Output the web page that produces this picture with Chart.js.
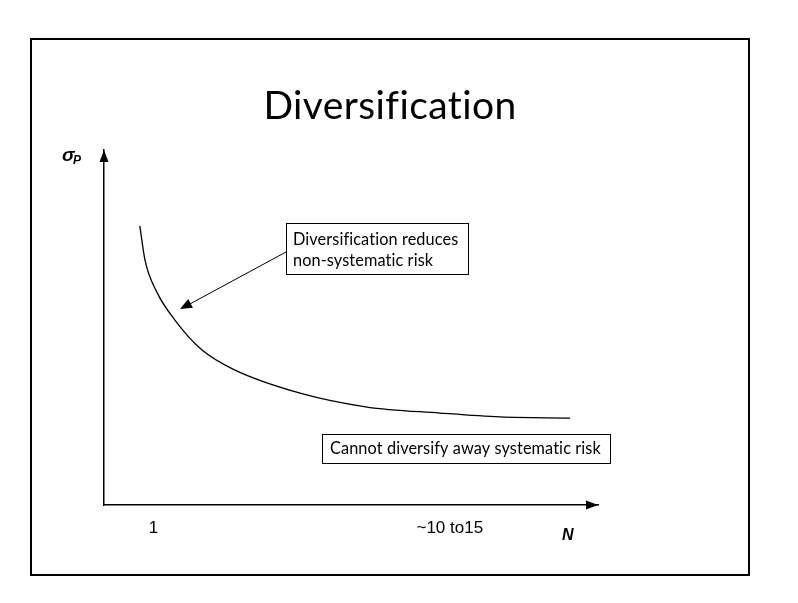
<!DOCTYPE html>
<html>
<head>
<meta charset="utf-8">
<script src="https://cdn.jsdelivr.net/npm/chart.js@4.4.1/dist/chart.umd.min.js"></script>
<style>
  html, body { margin: 0; padding: 0; background: #fff; }
  #wrap { width: 798px; height: 603px; }
</style>
</head>
<body>
<div id="wrap"><canvas id="diversification"></canvas></div>
<script>
// number of stocks in the portfolio (N) and portfolio risk (sigma P)
const stocksN = [0.45, 0.66, 1.13, 1.87, 2.96, 4.24, 6.94, 9.65, 12.60, 15.03, 17.87];
const sigmaP = [78.6, 69.0, 60.1, 52.1, 43.7, 38.2, 31.5, 27.6, 25.9, 24.8, 24.5];
const tickValues = [1, 13];
const tickLabels = ['1', '~10 to15'];

const points = stocksN.map((n, i) => ({ x: n, y: sigmaP[i] }));

const sansFont = "'Lato', 'Liberation Sans', sans-serif";
const arialFont = "'Liberation Sans', Arial, sans-serif";

// frame, title, axis arrows, axis names and the two notes
const slideDecor = {
  id: 'slideDecor',
  beforeDraw(chart) {
    const ctx = chart.ctx;
    ctx.save();
    ctx.fillStyle = '#fff';
    ctx.fillRect(0, 0, chart.width, chart.height);
    ctx.restore();
  },
  afterDraw(chart) {
    const ctx = chart.ctx;
    const area = chart.chartArea;
    ctx.save();

    // slide frame
    ctx.strokeStyle = '#000';
    ctx.lineWidth = 2;
    ctx.strokeRect(31, 39, 718, 536);

    // title (small letter spacing keeps "fi" from turning into a ligature)
    ctx.fillStyle = '#000';
    ctx.letterSpacing = '0.4px';
    ctx.font = '39px ' + sansFont;
    ctx.textAlign = 'center';
    ctx.textBaseline = 'alphabetic';
    ctx.fillText('Diversification', 390, 119);

    // arrow heads on the axes
    ctx.beginPath();
    ctx.moveTo(area.right, area.bottom);
    ctx.lineTo(area.right - 12, area.bottom - 4.5);
    ctx.lineTo(area.right - 12, area.bottom + 4.5);
    ctx.closePath();
    ctx.fill();
    ctx.beginPath();
    ctx.moveTo(area.left, area.top);
    ctx.lineTo(area.left - 4.5, area.top + 12);
    ctx.lineTo(area.left + 4.5, area.top + 12);
    ctx.closePath();
    ctx.fill();

    // axis names
    ctx.letterSpacing = '0px';
    ctx.textAlign = 'left';
    ctx.font = 'italic bold 19px ' + arialFont;
    ctx.fillText('\u03c3', 62, 161);
    ctx.font = 'italic bold 12px ' + arialFont;
    ctx.fillText('P', 73, 164);
    ctx.font = 'italic bold 16px ' + arialFont;
    ctx.fillText('N', 562, 540);

    // note 1 with pointer to the curve
    ctx.lineWidth = 1;
    ctx.strokeRect(286.5, 223.5, 182, 51);
    ctx.letterSpacing = '0.1px';
    ctx.font = '16.3px ' + sansFont;
    ctx.fillText('Diversification reduces', 293, 245);
    ctx.fillText('non-systematic risk', 293, 266);

    ctx.beginPath();
    ctx.moveTo(286, 252);
    ctx.lineTo(188, 305);
    ctx.stroke();
    const ang = Math.atan2(309 - 252, 180 - 286);
    ctx.beginPath();
    ctx.moveTo(180, 309);
    ctx.lineTo(180 - 12 * Math.cos(ang) + 5 * Math.sin(ang), 309 - 12 * Math.sin(ang) - 5 * Math.cos(ang));
    ctx.lineTo(180 - 12 * Math.cos(ang) - 5 * Math.sin(ang), 309 - 12 * Math.sin(ang) + 5 * Math.cos(ang));
    ctx.closePath();
    ctx.fill();

    // note 2
    ctx.strokeRect(322.5, 434.5, 288, 29);
    ctx.fillText('Cannot diversify away systematic risk', 330, 454);

    ctx.restore();
  }
};

new Chart(document.getElementById('diversification'), {
  type: 'line',
  data: {
    datasets: [
      {
        label: 'Portfolio risk',
        data: points,
        borderColor: '#000',
        borderWidth: 1.3,
        pointRadius: 0,
        fill: false,
        cubicInterpolationMode: 'monotone',
      },
    ]
  },
  options: {
    responsive: true,
    maintainAspectRatio: false,
    animation: false,
    layout: {
      padding: { left: 104, top: 150, right: 200, bottom: 0 }
    },
    scales: {
      x: {
        type: 'linear',
        min: -1,
        max: 19,
        grid: { display: false, drawTicks: false },
        border: { display: true, color: '#000', width: 1.5 },
        afterBuildTicks: (scale) => {
          scale.ticks = tickValues.map(v => ({ value: v }));
        },
        afterFit: (scale) => { scale.height = 98; },
        ticks: {
          color: '#000',
          padding: 13,
          maxRotation: 0,
          autoSkip: false,
          font: { family: arialFont, size: 17 },
          callback: (value) => tickLabels[tickValues.indexOf(value)],
        }
      },
      y: {
        type: 'linear',
        min: 0,
        max: 100,
        grid: { display: false, drawTicks: false },
        border: { display: true, color: '#000', width: 1.5 },
        afterFit: (scale) => { scale.width = 0; },
        ticks: { display: false }
      },
    },
    plugins: {
      legend: { display: false },
      tooltip: { enabled: false },
    },
  },
  plugins: [slideDecor]
});
</script>
</body>
</html>
